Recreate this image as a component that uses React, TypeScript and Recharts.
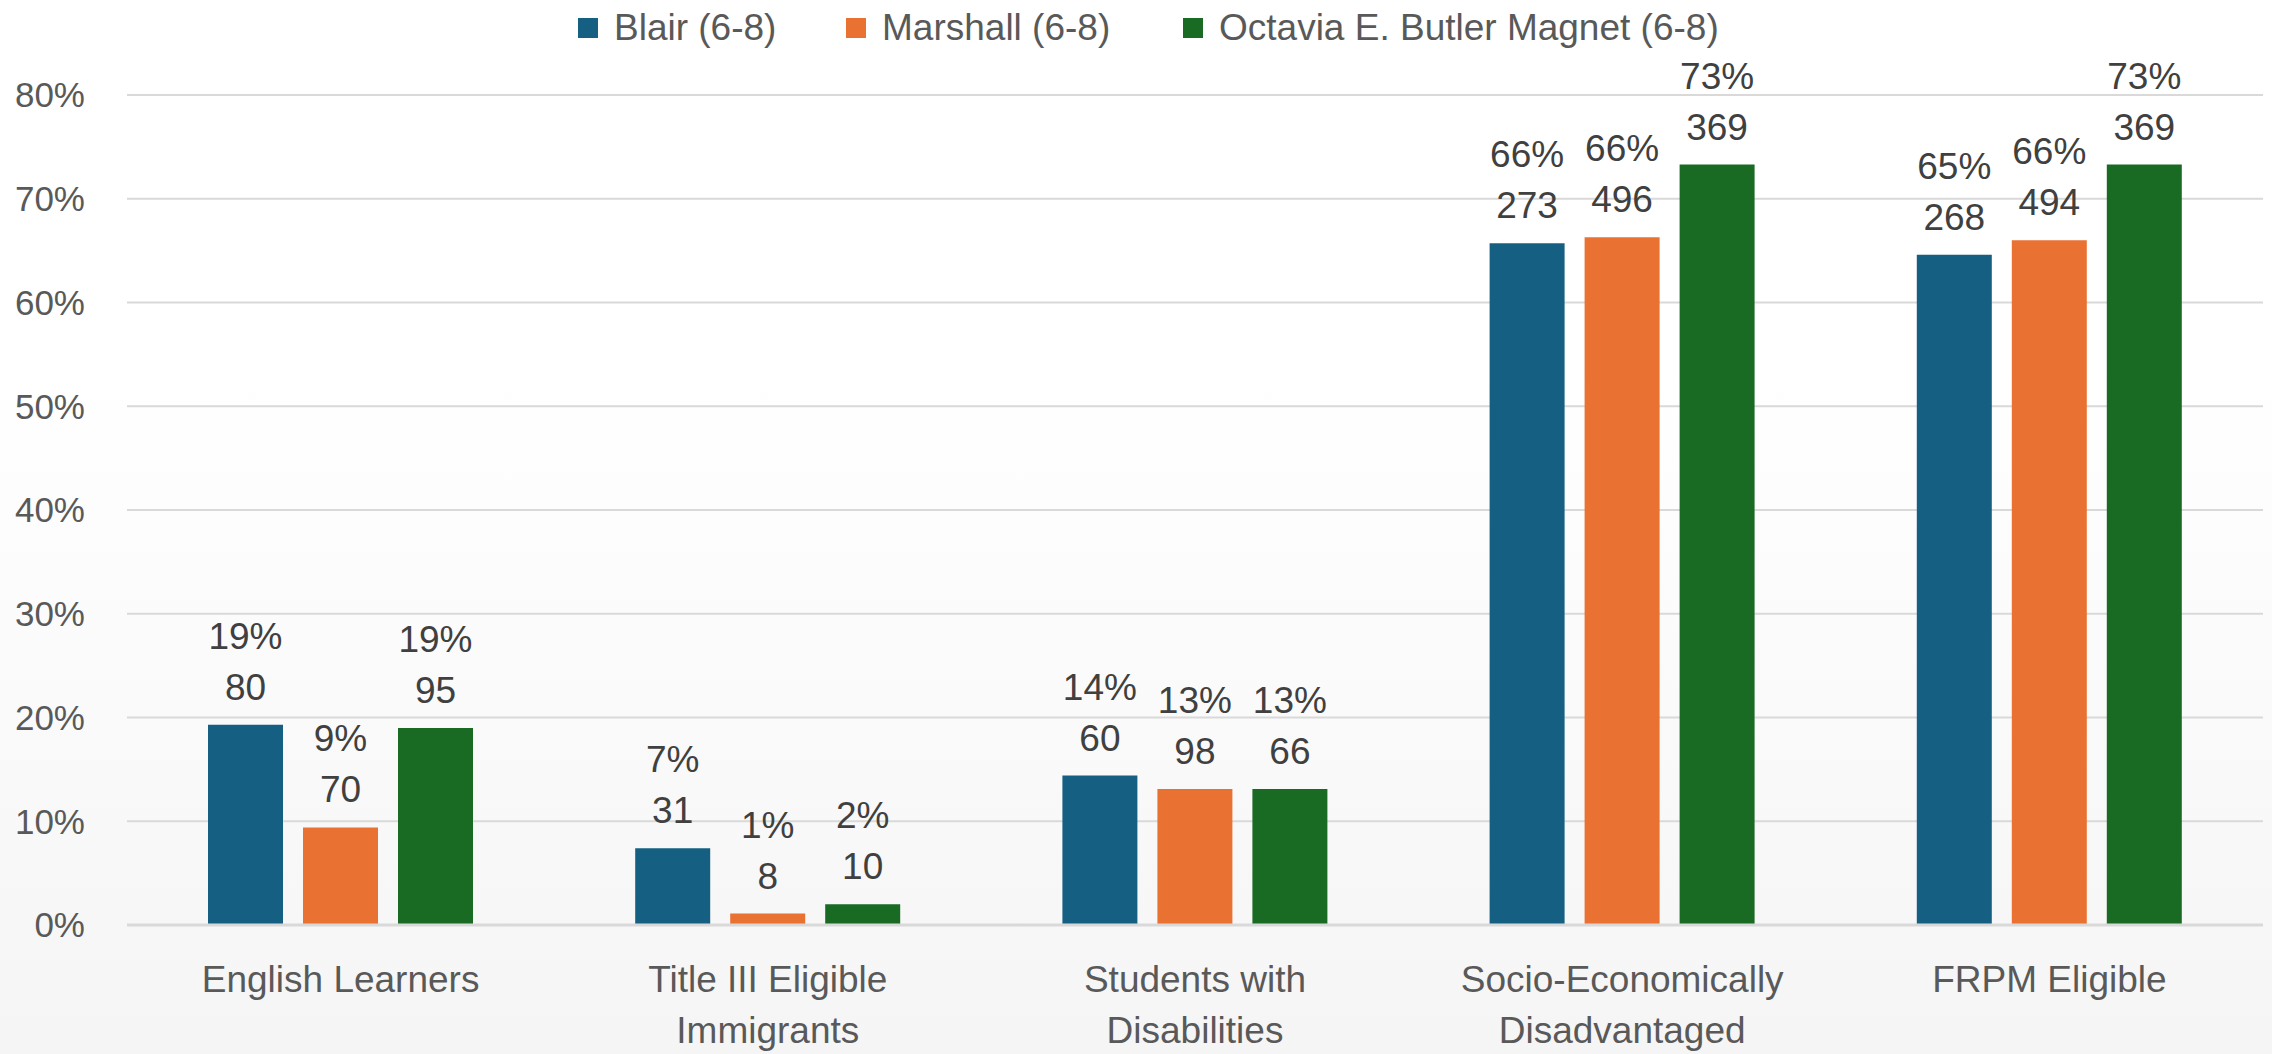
import React from 'react';
import { BarChart, Bar, XAxis, YAxis, CartesianGrid, Legend, LabelList } from 'recharts';

const categories = [
  'English Learners',
  'Title III Eligible Immigrants',
  'Students with Disabilities',
  'Socio-Economically Disadvantaged',
  'FRPM Eligible',
];
const seriesNames = ['Blair (6-8)', 'Marshall (6-8)', 'Octavia E. Butler Magnet (6-8)'];
const seriesKeys = ['blair', 'marshall', 'octavia'];
const seriesColors = ['#156082', '#E97132', '#196B24'];

const blairPct = [19.3, 7.4, 14.4, 65.7, 64.6];
const marshallPct = [9.4, 1.1, 13.1, 66.3, 66.0];
const octaviaPct = [19.0, 2.0, 13.1, 73.3, 73.3];

const blairCount = [80, 31, 60, 273, 268];
const marshallCount = [70, 8, 98, 496, 494];
const octaviaCount = [95, 10, 66, 369, 369];

const yTicks = [0, 10, 20, 30, 40, 50, 60, 70, 80];

const pctSets = [blairPct, marshallPct, octaviaPct];
const countSets = [blairCount, marshallCount, octaviaCount];

const data = categories.map((c, i) => ({
  category: c,
  blair: blairPct[i],
  marshall: marshallPct[i],
  octavia: octaviaPct[i],
}));

const FONT = '"Liberation Sans", Arial, sans-serif';

function wrapLabel(s: string, max: number): string[] {
  const words = s.split(' ');
  const lines: string[] = [];
  let cur = '';
  for (const w of words) {
    const next = cur ? cur + ' ' + w : w;
    if (next.length > max && cur) {
      lines.push(cur);
      cur = w;
    } else {
      cur = next;
    }
  }
  if (cur) lines.push(cur);
  return lines;
}

const XTick = (props: any) => {
  const { x, y, payload } = props;
  const lines = wrapLabel(String(payload.value), 18);
  return (
    <g>
      {lines.map((ln, i) => (
        <text
          key={i}
          x={x}
          y={y + 67 + i * 51}
          textAnchor="middle"
          fill="#595959"
          fontSize={37}
          fontFamily={FONT}
        >
          {ln}
        </text>
      ))}
    </g>
  );
};

const makeLabel = (si: number) => (props: any) => {
  const { x, y, width, index } = props;
  const cx = Number(x) + Number(width) / 2;
  const top = Number(y);
  const pct = Math.round(pctSets[si][index]);
  const n = countSets[si][index];
  return (
    <g>
      <text x={cx} y={top - 76} textAnchor="middle" fill="#404040" fontSize={37} fontFamily={FONT}>
        {pct + '%'}
      </text>
      <text x={cx} y={top - 25} textAnchor="middle" fill="#404040" fontSize={37} fontFamily={FONT}>
        {String(n)}
      </text>
    </g>
  );
};

const legendX = [578, 846, 1183];

const renderLegend = () => (
  <svg width={2272} height={95} style={{ display: 'block' }}>
    {seriesNames.map((name, i) => (
      <g key={name}>
        <rect x={legendX[i]} y={18} width={20} height={20} fill={seriesColors[i]} />
        <text x={legendX[i] + 36} y={40} fill="#595959" fontSize={37} fontFamily={FONT}>
          {name}
        </text>
      </g>
    ))}
  </svg>
);

export default function App() {
  return (
    <div
      style={{
        position: 'absolute',
        left: 0,
        top: 0,
        width: 2272,
        height: 1054,
        background: 'linear-gradient(to bottom, #ffffff 0%, #ffffff 35%, #f5f5f5 100%)',
      }}
    >
      <BarChart
        width={2272}
        height={1054}
        data={data}
        margin={{ top: 0, right: 9, bottom: 0, left: 0 }}
        barGap={20}
        barCategoryGap="19%"
      >
        <Legend verticalAlign="top" align="left" content={renderLegend} wrapperStyle={{ top: 0, left: 0, width: 2272, height: 95 }} />
        <CartesianGrid vertical={false} stroke="#d9d9d9" strokeWidth={2} />
        <XAxis
          dataKey="category"
          height={129}
          tickLine={false}
          tickSize={0}
          tickMargin={0}
          axisLine={{ stroke: '#d9d9d9', strokeWidth: 3 }}
          tick={<XTick />}
          interval={0}
        />
        <YAxis
          width={127}
          domain={[0, 80]}
          ticks={yTicks}
          axisLine={false}
          tickLine={false}
          tickSize={0}
          tickMargin={42}
          tickFormatter={(v: number) => v + '%'}
          tick={{ fill: '#595959', fontSize: 35, fontFamily: FONT }}
        />
        {seriesKeys.map((k, i) => (
          <Bar key={k} dataKey={k} name={seriesNames[i]} fill={seriesColors[i]} barSize={75} isAnimationActive={false}>
            <LabelList dataKey={k} content={makeLabel(i)} />
          </Bar>
        ))}
      </BarChart>
    </div>
  );
}
